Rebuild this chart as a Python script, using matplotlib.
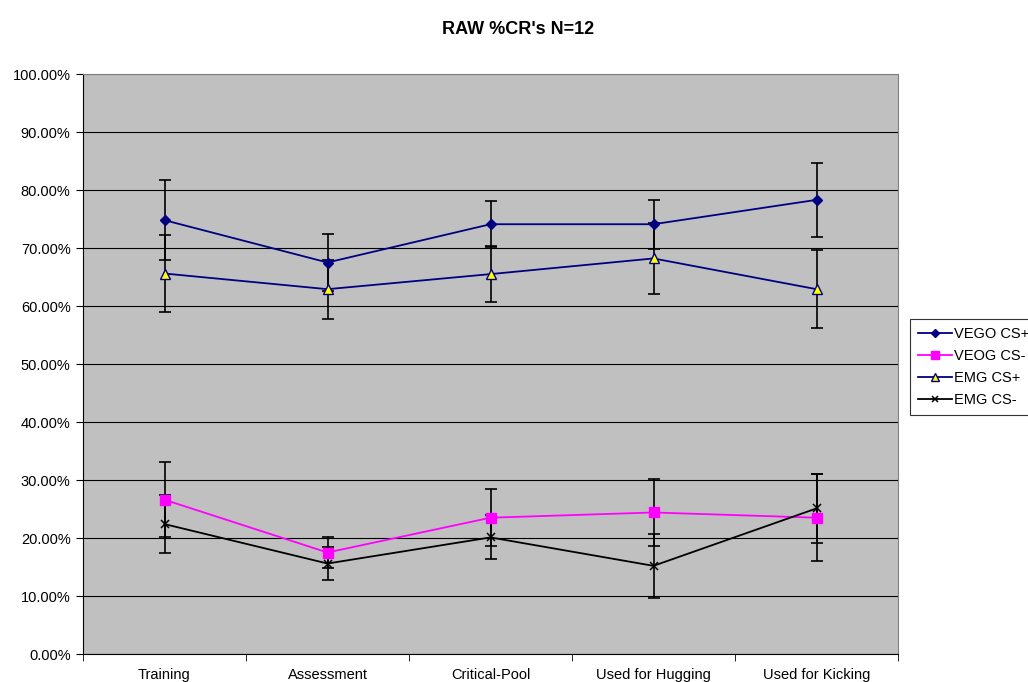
import matplotlib.pyplot as plt
import numpy as np

plt.rcParams['font.family'] = ['Liberation Sans', 'DejaVu Sans']

categories = ["Training", "Assessment", "Critical-Pool", "Used for Hugging", "Used for Kicking"]

vego_plus = [74.8, 67.5, 74.1, 74.1, 78.3]
vego_plus_err = [6.9, 4.9, 4.0, 4.2, 6.4]
veog_minus = [26.6, 17.5, 23.5, 24.4, 23.5]
veog_minus_err = [6.5, 2.6, 4.9, 5.7, 7.5]
emg_plus = [65.6, 62.9, 65.5, 68.2, 62.9]
emg_plus_err = [6.6, 5.1, 4.8, 6.1, 6.7]
emg_minus = [22.4, 15.6, 20.1, 15.2, 25.1]
emg_minus_err = [5.0, 2.8, 3.8, 5.5, 6.0]

fig = plt.figure(figsize=(10.28, 6.82), dpi=100)
ax = fig.add_axes([83 / 1028, 1 - 654 / 682, 815 / 1028, 580 / 682])
ax.set_facecolor("#C0C0C0")

x = np.arange(len(categories))

series = [
    ("VEGO CS+", vego_plus, vego_plus_err, dict(color="#000080", marker="D", markersize=5.5,
                                               markerfacecolor="#000080", markeredgecolor="#000080")),
    ("VEOG CS-", veog_minus, veog_minus_err, dict(color="#FF00FF", marker="s", markersize=6.5,
                                                 markerfacecolor="#FF00FF", markeredgecolor="#FF00FF")),
    ("EMG CS+", emg_plus, emg_plus_err, dict(color="#000080", marker="^", markersize=6.5,
                                            markerfacecolor="#FFFF00", markeredgecolor="#000080")),
    ("EMG CS-", emg_minus, emg_minus_err, dict(color="black", marker="x", markersize=6,
                                              markeredgecolor="black", markeredgewidth=1.1)),
]

for name, vals, errs, style in series:
    ax.errorbar(x, vals, yerr=errs, fmt="none", ecolor="black", elinewidth=1.2,
                capsize=4, capthick=1.2, zorder=2)
    ax.plot(x, vals, linewidth=1.3, label=name, zorder=3, **style)

ax.set_xlim(-0.5, 4.5)
ax.set_ylim(0, 100)
ax.set_yticks(np.arange(0, 101, 10))
ax.set_yticklabels(["%.2f%%" % v for v in np.arange(0, 101, 10)], fontsize=10.5)
ax.yaxis.grid(True, color="black", linewidth=0.8)
ax.set_axisbelow(True)

ax.set_xticks(x)
ax.set_xticklabels(categories, fontsize=10.5)
ax.tick_params(axis="x", length=0, pad=10)
ax.set_xticks(np.arange(-0.5, 5, 1), minor=True)
ax.tick_params(axis="x", which="minor", length=5, direction="out")
ax.tick_params(axis="y", length=5, direction="out", pad=4)

for side in ["top", "right"]:
    ax.spines[side].set_color("#808080")
for side in ["left", "bottom"]:
    ax.spines[side].set_color("black")

fig.suptitle("RAW %CR's N=12", fontsize=13, fontweight="bold", y=1 - 29 / 682, x=518 / 1028, va="center")

leg = fig.legend(loc="upper left", bbox_to_anchor=(910 / 1028, 1 - 319 / 682), fontsize=10.5,
                 frameon=True, fancybox=False, edgecolor="black", handlelength=2.3,
                 handletextpad=0.2, borderpad=0.55, labelspacing=0.55, borderaxespad=0,
                 markerscale=0.8)
leg.get_frame().set_linewidth(0.8)

fig.savefig("out.png", dpi=100)
